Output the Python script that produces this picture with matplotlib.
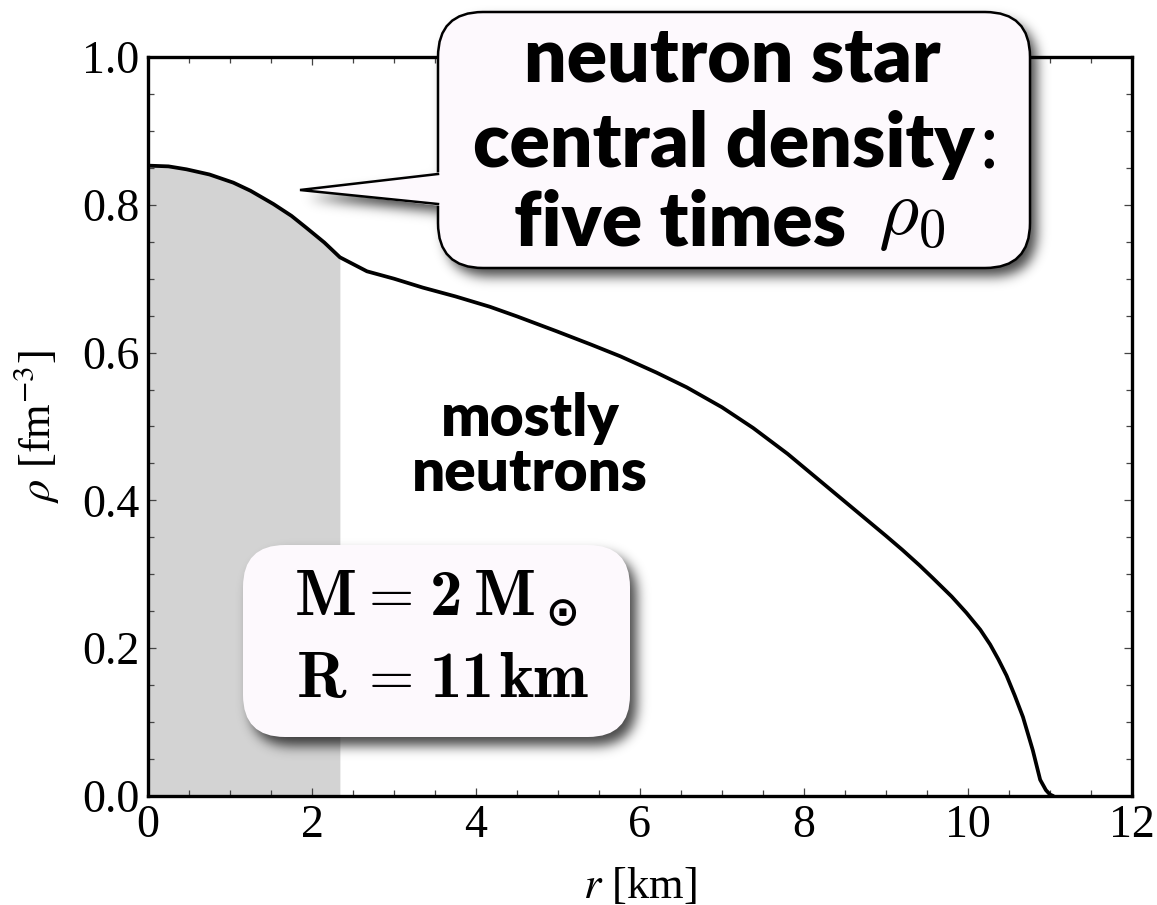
import numpy as np
import matplotlib
matplotlib.use("Agg")
import matplotlib.pyplot as plt
from matplotlib.patches import FancyBboxPatch, Polygon
from matplotlib.path import Path

# density profile of a 2 solar-mass star (r in km, rho in fm^-3)
r_km = [0.0, 0.25, 0.47, 0.75, 1.04, 1.25, 1.53, 1.75, 1.93, 2.15, 2.34,
        2.67, 3.0, 3.35, 3.75, 4.17, 4.5, 4.98, 5.4, 5.76, 6.2, 6.57,
        7.0, 7.38, 7.8, 8.2, 8.6, 9.0, 9.2, 9.41, 9.57, 9.8, 9.98, 10.15,
        10.27, 10.37, 10.47, 10.57, 10.67, 10.79, 10.88, 10.95, 11.0, 11.04]
rho = [0.853, 0.852, 0.848, 0.841, 0.830, 0.819, 0.801, 0.785, 0.769, 0.749, 0.729,
       0.710, 0.700, 0.688, 0.676, 0.662, 0.649, 0.629, 0.611, 0.595, 0.573, 0.553,
       0.526, 0.498, 0.463, 0.426, 0.389, 0.352, 0.333, 0.312, 0.295, 0.270, 0.248, 0.225,
       0.205, 0.185, 0.163, 0.136, 0.107, 0.062, 0.022, 0.008, 0.002, 0.0]
core_edge = 2.34   # shaded inner core

x_ticks = [0, 2, 4, 6, 8, 10, 12]
y_ticks = [0.0, 0.2, 0.4, 0.6, 0.8, 1.0]

W, H = 1157, 905
plt.rcParams["font.family"] = "serif"
plt.rcParams["font.serif"] = ["Liberation Serif", "DejaVu Serif"]
plt.rcParams["mathtext.fontset"] = "stix"

fig = plt.figure(figsize=(W / 100, H / 100), dpi=100)
ax = fig.add_axes([148 / W, (H - 796) / H, (1132 - 148) / W, (796 - 57) / H])

r_arr = np.array(r_km)
rho_arr = np.array(rho)
core = r_arr <= core_edge
ax.fill_between(r_arr[core], 0, rho_arr[core], color="#d3d3d3", lw=0, zorder=1)
ax.plot(r_arr, rho_arr, color="black", lw=2.7, zorder=3,
        solid_joinstyle="round", solid_capstyle="round")

ax.set_xlim(0, 12)
ax.set_ylim(0, 1.0)
ax.set_xticks(x_ticks)
ax.set_yticks(y_ticks)
ax.set_xticklabels([str(t) for t in x_ticks])
ax.set_yticklabels([f"{t:.1f}" for t in y_ticks])
ax.set_xticks(np.arange(0, 12.01, 0.5), minor=True)
ax.set_yticks(np.arange(0, 1.001, 0.05), minor=True)
ax.tick_params(which="both", direction="in", top=True, right=True,
               labelsize=33, pad=6, color="#444444")
ax.tick_params(which="major", length=6, width=0.9)
ax.tick_params(which="minor", length=4, width=0.9)
for s in ax.spines.values():
    s.set_linewidth(2.4)

ax.set_xlabel("$r$ [km]", fontsize=32, labelpad=14)
ax.set_ylabel(r"$\rho$ [fm$^{-3}$]", fontsize=32, labelpad=15)

ax.text(4.66, 0.474, "mostly\nneutrons", family="Lato", weight="heavy",
        fontsize=42, ha="center", va="center", linespacing=1.05, zorder=4)

# overlay in pixel units for the callout boxes
ov = fig.add_axes([0, 0, 1, 1], zorder=5)
ov.set_xlim(0, W)
ov.set_ylim(H, 0)
ov.axis("off")
ov.patch.set_alpha(0)

face = "#fdf9fd"
b1 = FancyBboxPatch((438, 12), 1030 - 438, 268 - 12,
                    boxstyle="round,pad=0,rounding_size=45",
                    fc=face, ec="black", lw=1.8, zorder=3)
b2 = FancyBboxPatch((243, 545), 630 - 243, 737 - 545,
                    boxstyle="round,pad=0,rounding_size=42",
                    fc=face, ec="none", lw=0, zorder=3)
tip = (300, 190)
tail = [tip, (438, 174), (438, 204)]

# soft drop shadow under both boxes
yy, xx = np.mgrid[0:H, 0:W]
pts = np.column_stack([xx.ravel() + 0.5, yy.ravel() + 0.5])
mask = np.zeros(H * W, bool)
for p in (b1.get_path(), b2.get_path(), Path(tail + [tip], closed=True)):
    mask |= p.contains_points(pts)
mask = mask.reshape(H, W).astype(float)
mask = np.roll(np.roll(mask, 9, axis=0), 7, axis=1)
sig = 6.0
ky = np.exp(-0.5 * (np.fft.fftfreq(H) * 2 * np.pi * sig) ** 2)
kx = np.exp(-0.5 * (np.fft.rfftfreq(W) * 2 * np.pi * sig) ** 2)
blur = np.fft.irfft2(np.fft.rfft2(mask) * ky[:, None] * kx[None, :], s=(H, W))
shadow = np.zeros((H, W, 4))
shadow[..., 3] = np.clip(blur, 0, 1) * 0.72
ov.imshow(shadow, extent=(0, W, H, 0), zorder=1, interpolation="bilinear")

ov.add_patch(b1)
ov.add_patch(b2)
ov.add_patch(Polygon([tip, (441, 172), (441, 206)], closed=True,
                     fc=face, ec="none", zorder=4))
ov.plot([438, tip[0], 438], [174, tip[1], 204], color="black", lw=1.8,
        zorder=5, solid_joinstyle="miter")

bubble = dict(family="Lato", weight="heavy", fontsize=54, va="baseline", zorder=6)
ov.text(732, 82, "neutron star", ha="center", **bubble)
t2 = ov.text(724, 167, "central density", ha="center", **bubble)
ov.annotate(":", xy=(1, 0), xycoords=t2, xytext=(3, 0), textcoords="offset points",
            family="Lato", fontsize=54, ha="left", va="bottom", zorder=6)
ov.text(846, 245, "five times", ha="right", **bubble)
ov.text(878, 234, r"$\rho_0$", fontsize=56, math_fontfamily="cm",
        ha="left", va="baseline", zorder=6)

# M = 2 Msun / R = 11 km, set piece by piece in Computer Modern
bold = dict(family="cmb10", fontsize=47, ha="left", va="baseline", zorder=6)
eq = dict(family="cmr10", fontsize=42, ha="left", va="baseline", zorder=6)
ov.text(295, 615, "M", **bold)
ov.text(369, 613, "=", **eq)
ov.text(430, 615, "2", **bold)
ov.text(474, 615, "M", **bold)
ov.text(562, 614, "\u2299", family="DejaVu Sans", weight="bold", fontsize=29,
        ha="center", va="center", zorder=6)
ov.text(297, 697, "R", **bold)
ov.text(369, 695, "=", **eq)
ov.text(430, 697, "11", **bold)
ov.text(499, 697, "km", **bold)

fig.savefig("out.png", dpi=100)
